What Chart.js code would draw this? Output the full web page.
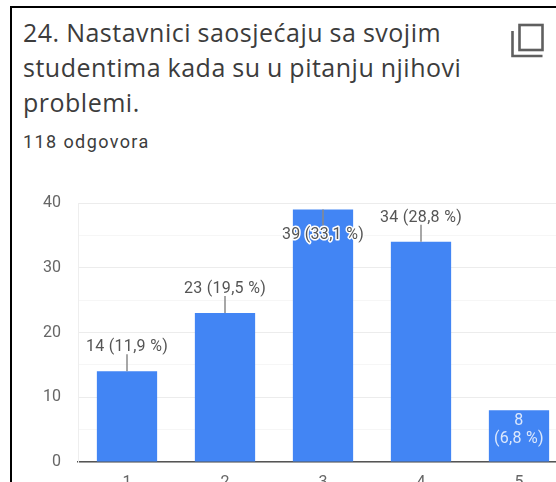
<!DOCTYPE html>
<html>
<head>
<meta charset="utf-8">
<style>
  html, body { margin: 0; padding: 0; background: #fff; }
  #page { position: relative; width: 556px; height: 482px; overflow: hidden; background: #fff; }
  #frameTop { position: absolute; left: 10px; top: 6px; right: 0; height: 2px; background: #000; }
  #frameLeft { position: absolute; left: 10px; top: 6px; bottom: 0; width: 2px; background: #000; }
  #title { position: absolute; left: 23px; top: 15px; margin: 0; font: 400 25px/35px "Open Sans", sans-serif; letter-spacing: 0.5px; word-spacing: -0.5px; color: #3c3c3c; white-space: nowrap; }
  #count { position: absolute; left: 23px; top: 131px; font: 400 18px/22px Roboto, sans-serif; letter-spacing: 1.4px; color: #3c3c3c; }
  #copy { position: absolute; left: 510px; top: 23px; }
  #chartBox { position: absolute; left: 0; top: 192px; width: 568px; height: 290px; }
</style>
</head>
<body>
<div id="page">
  <div id="frameTop"></div>
  <div id="frameLeft"></div>
  <h1 id="title">24. Nastavnici saosjećaju sa svojim<br>studentima kada su u pitanju njihovi<br>problemi.</h1>
  <div id="count">118 odgovora</div>
  <svg id="copy" width="36" height="36" viewBox="0 0 36 36" fill="none" stroke="#5f5f5f" stroke-width="2.6">
    <rect x="9.5" y="2" width="23" height="25"></rect>
    <path d="M2.5 8v25h30"></path>
  </svg>
  <div id="chartBox"><canvas id="answersChart" width="568" height="290"></canvas></div>
</div>

<script src="https://cdnjs.cloudflare.com/ajax/libs/Chart.js/4.4.1/chart.umd.js"></script>
<script>
  const categories = ['1', '2', '3', '4', '5'];
  const answers = [14, 23, 39, 34, 8];
  const shares = ['11,9 %', '19,5 %', '33,1 %', '28,8 %', '6,8 %'];

  // leader lines and value labels, google forms style
  const barLabels = {
    id: 'barLabels',
    afterDatasetsDraw(chart) {
      const c = chart.ctx;
      const bars = chart.getDatasetMeta(0).data;
      c.save();
      c.font = '16px Roboto, sans-serif';
      c.letterSpacing = '0.3px';
      c.textAlign = 'center';
      c.textBaseline = 'middle';
      bars.forEach((bar, i) => {
        const text = answers[i] + ' (' + shares[i] + ')';
        if (answers[i] < 10) {
          c.fillStyle = '#dce8fc';
          c.fillText(String(answers[i]), bar.x, bar.y + 11);
          c.fillText('(' + shares[i] + ')', bar.x, bar.y + 29);
          return;
        }
        const inside = answers[i] > 35;
        const lineEnd = inside ? bar.y + 16 : bar.y - 17;
        c.strokeStyle = '#8a8a8a';
        c.lineWidth = 1.5;
        c.beginPath();
        c.moveTo(bar.x, bar.y);
        c.lineTo(bar.x, lineEnd);
        c.stroke();
        const textY = inside ? bar.y + 26 : bar.y - 24;
        if (inside) {
          c.strokeStyle = '#fff';
          c.lineWidth = 3;
          c.lineJoin = 'round';
          c.strokeText(text, bar.x, textY);
        }
        c.fillStyle = '#555';
        c.fillText(text, bar.x, textY);
      });
      c.restore();
    }
  };

  new Chart(document.getElementById('answersChart'), {
    type: 'bar',
    data: {
      labels: categories,
      datasets: [{
        data: answers,
        backgroundColor: '#4285f4',
        categoryPercentage: 1,
        barPercentage: 0.615
      }]
    },
    options: {
      responsive: false,
      animation: false,
      layout: { padding: { top: 11, right: 0, bottom: 0, left: 0 } },
      plugins: { legend: { display: false }, tooltip: { enabled: false } },
      scales: {
        x: {
          afterFit(scale) {
            scale.height = 20;
            scale.paddingLeft = 0;
            scale.paddingRight = 0;
          },
          grid: { display: false, drawTicks: false },
          border: { color: '#555', width: 1.5 },
          ticks: { color: '#666', padding: 11, maxRotation: 0, font: { family: 'Roboto', size: 16 } }
        },
        y: {
          min: 0,
          max: 40,
          afterFit(scale) {
            scale.width = 78;
            scale.paddingTop = 0;
            scale.paddingBottom = 0;
          },
          grid: {
            drawTicks: false,
            color: (ctx) => ctx.tick.value % 10 === 0 ? '#ececec' : '#f6f6f6'
          },
          border: { color: '#eeeeee' },
          ticks: {
            stepSize: 5,
            padding: 17,
            autoSkip: false,
            color: '#666',
            font: { family: 'Roboto', size: 16 },
            callback: (v) => v % 10 === 0 ? v : ''
          }
        }
      }
    },
    plugins: [barLabels]
  });
</script>
</body>
</html>
